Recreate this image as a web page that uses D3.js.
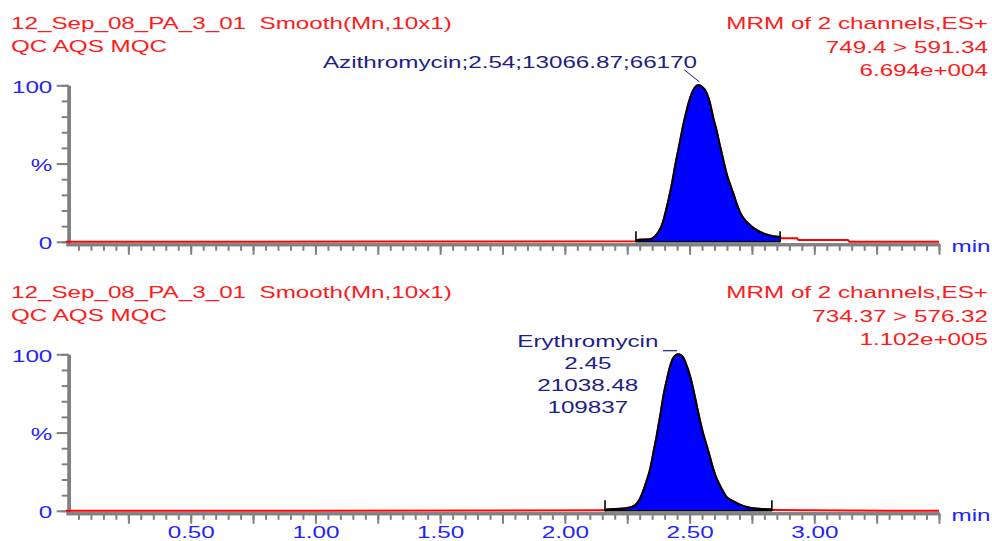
<!DOCTYPE html>
<html><head><meta charset="utf-8">
<script src="https://cdn.jsdelivr.net/npm/d3@7"></script>
<style>html,body{margin:0;padding:0;background:#fff;overflow:hidden}</style>
</head><body>
<svg id="c" width="992" height="541"></svg>
<script>
// ---------------- data ----------------
const runName = "12_Sep_08_PA_3_01  Smooth(Mn,10x1)";
const sampleText = "QC AQS MQC";
const functionText = "MRM of 2 channels,ES+";
const transitions = ["749.4 > 591.34", "734.37 > 576.32"];
const maxIntensity = ["6.694e+004", "1.102e+005"];
const compounds = ["Azithromycin", "Erythromycin"];
const retTimes = ["2.54", "2.45"];
const areas = ["13066.87", "21038.48"];
const heights = ["66170", "109837"];
const xTickLabels = [0.5, 1.0, 1.5, 2.0, 2.5, 3.0];
const yTickValues = [0, 50, 100];
const yTickLabels = ["0", "%", "100"];
const xUnit = "min";

const azTime = [0, 2.285, 2.288, 2.342, 2.362, 2.375, 2.389, 2.402, 2.415, 2.429, 2.442, 2.462, 2.475, 2.489, 2.502, 2.515, 2.535, 2.549, 2.569, 2.582, 2.595, 2.609, 2.622, 2.636, 2.649, 2.662, 2.676, 2.689, 2.702, 2.723, 2.743, 2.769, 2.796, 2.836, 2.856, 2.863, 2.870, 2.931, 2.937, 3.135, 3.141, 3.5];
const azPct  = [0, 0.4, 1.1, 1.7, 3.6, 6.3, 10.6, 17.9, 26.4, 36.9, 48.5, 64.4, 74.9, 84.4, 91.8, 97.0, 100, 99.2, 94.9, 88.6, 79.1, 70.7, 61.2, 51.7, 43.2, 36.9, 30.6, 24.3, 19.0, 13.7, 10.6, 7.4, 5.3, 3.6, 3.2, 3.0, 2.2, 2.2, 1.1, 1.1, 0, 0];

const erTime = [0, 2.161, 2.168, 2.235, 2.268, 2.288, 2.301, 2.315, 2.328, 2.342, 2.355, 2.368, 2.382, 2.395, 2.409, 2.422, 2.435, 2.455, 2.475, 2.489, 2.502, 2.515, 2.529, 2.542, 2.555, 2.569, 2.582, 2.595, 2.609, 2.629, 2.649, 2.676, 2.702, 2.729, 2.763, 2.823, 2.830, 3.5];
const erPct  = [0, 0.3, 0.8, 1.4, 2.4, 4.5, 7.7, 13.0, 19.3, 26.7, 37.3, 47.9, 60.6, 73.3, 83.9, 92.4, 97.7, 100, 97.7, 92.4, 86.0, 77.6, 67.0, 57.5, 49.0, 41.6, 34.2, 26.7, 20.4, 14.0, 8.7, 6.0, 3.9, 2.4, 1.4, 1.0, 0.5, 0];

const peakStart = [2.285, 2.161];
const peakEnd = [2.863, 2.830];
const apexTime = [2.535, 2.455];

// ---------------- layout / style ----------------
const FONT = "'Liberation Sans', Arial, Helvetica, sans-serif";
const FS = 17;
const K = 1.4235; // horizontal stretch of the original bitmap text
const RED = "#ff1a1a", BLUE = "#2222ff", NAVY = "#1e1e88", GRAY = "#808080";

const svg = d3.select("#c");
function stretch(sel) {
  sel.each(function () {
    const L = this.getComputedTextLength();
    if (L > 0) d3.select(this).attr("textLength", L * K).attr("lengthAdjust", "spacingAndGlyphs");
  });
}
function txt(g, s, x, y, color, anchor) {
  const t = g.append("text").attr("x", x).attr("y", y).text(s)
    .attr("fill", color).attr("font-family", FONT).attr("font-size", FS)
    .attr("text-anchor", anchor || "start").style("white-space", "pre");
  stretch(t);
  return t;
}

const x = d3.scaleLinear().domain([0, 3.5]).range([66, 939]);
const traces = [
  azTime.map((t, i) => ({ t, p: azPct[i] })),
  erTime.map((t, i) => ({ t, p: erPct[i] }))
];
const offsets = [0, 269];

offsets.forEach((off, k) => {
  const g = svg.append("g");
  const y = d3.scaleLinear().domain([0, 100]).range([241.8 + off, 85.3 + off]);

  // headers
  txt(g, runName, 11, 29.3 + off, RED);
  txt(g, sampleText, 11, 51.8 + off, RED);
  txt(g, functionText, 988, 29.3 + off, RED, "end");
  txt(g, transitions[k], 988, 52.8 + off, RED, "end");
  txt(g, maxIntensity[k], 988, 76 + off, RED, "end");

  // x axis
  const ax = g.append("g").attr("transform", `translate(0,${y(0) + 2.5})`);
  ax.append("g").call(d3.axisBottom(x).tickValues(d3.range(1, 71).map(i => i * 0.05)).tickSize(6.5).tickSizeOuter(0).tickFormat(""));
  ax.append("g").call(d3.axisBottom(x).tickValues(d3.range(1, 15).map(i => i * 0.25)).tickSize(10.5).tickSizeOuter(0).tickFormat(""));
  ax.selectAll("path.domain").attr("stroke", GRAY).attr("stroke-width", 3);
  ax.selectAll(".tick line").attr("stroke", GRAY).attr("stroke-width", 2);
  if (k === 1) {
    const lab = ax.append("g").call(d3.axisBottom(x).tickValues(xTickLabels).tickSize(0).tickFormat(d3.format(".2f")));
    lab.select("path.domain").remove();
    lab.selectAll("text").attr("y", 538 - (y(0) + 2.5)).attr("dy", null)
      .attr("fill", BLUE).attr("font-family", FONT).attr("font-size", FS);
    stretch(lab.selectAll("text"));
  }
  txt(g, xUnit, 951.5, y(0) + 10.5, BLUE);

  // y axis
  const ay = g.append("g").attr("transform", `translate(68.7,0)`);
  ay.append("g").call(d3.axisLeft(y).tickValues(d3.range(0, 101, 10)).tickSize(7).tickSizeOuter(0).tickFormat(""));
  const yl = ay.append("g").call(d3.axisLeft(y).tickValues(yTickValues).tickSize(12).tickSizeOuter(0).tickFormat((d, i) => yTickLabels[i]));
  ay.selectAll("path.domain").attr("stroke", GRAY).attr("stroke-width", 3.5);
  ay.selectAll(".tick line").attr("stroke", GRAY).attr("stroke-width", 2);
  ay.append("line").attr("x1", 0).attr("x2", 0).attr("y1", y(0)).attr("y2", y(0) + 4)
    .attr("stroke", GRAY).attr("stroke-width", 3.5);
  yl.selectAll("text").attr("x", -16.4).attr("dy", 7).attr("fill", BLUE)
    .attr("font-family", FONT).attr("font-size", FS);
  stretch(yl.selectAll("text"));

  // trace
  const data = traces[k];
  const line = d3.line().x(d => x(d.t)).y(d => y(d.p)).curve(d3.curveMonotoneX);
  g.append("path").attr("d", line(data)).attr("fill", "none").attr("stroke", "#ff0000").attr("stroke-width", 2);

  // integrated peak
  const pk = data.filter(d => d.t >= peakStart[k] - 1e-9 && d.t <= peakEnd[k] + 1e-9);
  const area = d3.area().x(d => x(d.t)).y0(y(0)).y1(d => y(d.p)).curve(d3.curveMonotoneX);
  g.append("path").attr("d", area(pk)).attr("fill", "#0000ff");
  g.append("path").attr("d", line(pk)).attr("fill", "none").attr("stroke", "#000").attr("stroke-width", 2);
  g.append("line").attr("x1", x(peakStart[k])).attr("x2", x(peakEnd[k])).attr("y1", y(0)).attr("y2", y(0))
    .attr("stroke", "#000").attr("stroke-width", 1.5);
  [peakStart[k], peakEnd[k]].forEach(t => {
    g.append("line").attr("x1", x(t)).attr("x2", x(t)).attr("y1", y(0) + 0.5).attr("y2", y(0) - 10.5)
      .attr("stroke", "#000").attr("stroke-width", 1.6);
  });

  // peak label
  const ax0 = x(apexTime[k]), ay0 = y(100);
  if (k === 0) {
    txt(g, [compounds[k], retTimes[k], areas[k], heights[k]].join(";"), ax0 - 1.3, ay0 - 17.3, NAVY, "end");
    g.append("line").attr("x1", ax0 - 14).attr("y1", ay0 - 15.5).attr("x2", ax0 + 1).attr("y2", ay0 - 3.5)
      .attr("stroke", NAVY).attr("stroke-width", 1);
  } else {
    [compounds[k], retTimes[k], areas[k], heights[k]].forEach((s, i) => {
      txt(g, s, ax0 - 90.5, ay0 - 7.5 + i * 22.2, NAVY, "middle");
    });
    g.append("line").attr("x1", ax0 - 15.4).attr("y1", ay0 - 3.6).attr("x2", ax0 - 1.2).attr("y2", ay0 - 3.6)
      .attr("stroke", NAVY).attr("stroke-width", 1.2);
  }
});
</script>
</body></html>
